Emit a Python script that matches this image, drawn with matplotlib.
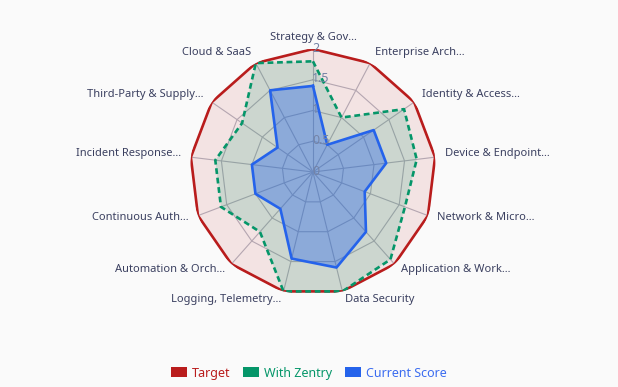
import numpy as np
import matplotlib
matplotlib.use('Agg')
import matplotlib.pyplot as plt
from matplotlib.patches import Patch

plt.rcParams['font.family'] = ['Noto Sans', 'DejaVu Sans']

# data
categories = ['Strategy & Gov...', 'Enterprise Arch...', 'Identity & Access...',
              'Device & Endpoint...', 'Network & Micro...', 'Application & Work...',
              'Data Security', 'Logging, Telemetry...', 'Automation & Orch...',
              'Continuous Auth...', 'Incident Response...', 'Third-Party & Supply...',
              'Cloud & SaaS']
target = [2, 2, 2, 2, 2, 2, 2, 2, 2, 2, 2, 2, 2]
with_zentry = [1.8, 1.0, 1.8, 1.7, 1.6, 1.9, 2.0, 2.0, 1.3, 1.6, 1.6, 1.4, 2.0]
current = [1.4, 0.5, 1.2, 1.2, 0.9, 1.3, 1.6, 1.45, 0.8, 1.0, 1.0, 0.7, 1.5]
ticks = [0, 0.5, 1, 1.5, 2]

red = '#b91c1c'
green = '#059669'
blue = '#2563eb'

n = len(categories)
theta = np.arange(n) * 2 * np.pi / n
theta_c = np.append(theta, theta[0])

def closed(v):
    return np.append(v, v[0])

fig = plt.figure(figsize=(6.18, 3.87), dpi=100)
fig.patch.set_facecolor('#fafafa')
ax = fig.add_axes([0.3074, 0.2377, 0.398, 0.6357], polar=True)
ax.set_theta_zero_location('N')
ax.set_theta_direction(-1)
ax.set_ylim(0, 2)
ax.set_facecolor('none')
ax.spines['polar'].set_visible(False)
ax.grid(False)
ax.set_xticks([])
ax.set_yticks([])

# polygon grid + spokes
for t in ticks[1:]:
    ax.plot(theta_c, [t] * (n + 1), color='#b4b6c2', lw=0.8, zorder=1)
for a in theta:
    ax.plot([a, a], [0, 2], color='#b4b6c2', lw=0.8, zorder=1)

# series
ax.fill(theta_c, closed(target), color=red, alpha=0.1, lw=0, zorder=2)
ax.plot(theta_c, closed(target), color=red, lw=1.9, zorder=5)
ax.fill(theta_c, closed(with_zentry), color=green, alpha=0.16, lw=0, zorder=3)
ax.plot(theta_c, closed(with_zentry), color=green, lw=1.9, ls=(0, (2.2, 1.4)), zorder=6)
ax.fill(theta_c, closed(current), color=blue, alpha=0.38, lw=0, zorder=4)
ax.plot(theta_c, closed(current), color=blue, lw=1.9, zorder=7)

# tick labels
for t in ticks:
    ax.annotate('%g' % t, xy=(0, t), xytext=(-1, 1), textcoords='offset pixels',
                ha='left', va='center', fontsize=9, color='#7483a6', zorder=8)

# point labels
for a, lab in zip(theta, categories):
    s, c = np.sin(a), np.cos(a)
    if abs(s) < 0.05:
        ha = 'center'
    elif s > 0:
        ha = 'left'
    else:
        ha = 'right'
    ax.annotate(lab, xy=(a, 2), xytext=(10 * s, 10 * c + 2), textcoords='offset pixels',
                ha=ha, va='center', fontsize=8, color='#3b4060', annotation_clip=False)

handles = [Patch(facecolor=red), Patch(facecolor=green), Patch(facecolor=blue)]
fig.legend(handles, ['Target', 'With Zentry', 'Current Score'], loc='center',
           bbox_to_anchor=(0.5, 0.036), ncol=3, frameon=False, fontsize=9,
           handlelength=1.3, handleheight=0.9, handletextpad=0.4, columnspacing=1.0,
           labelcolor=[red, green, '#3b6cf0'])

fig.savefig('out.png', dpi=100, facecolor=fig.get_facecolor())
